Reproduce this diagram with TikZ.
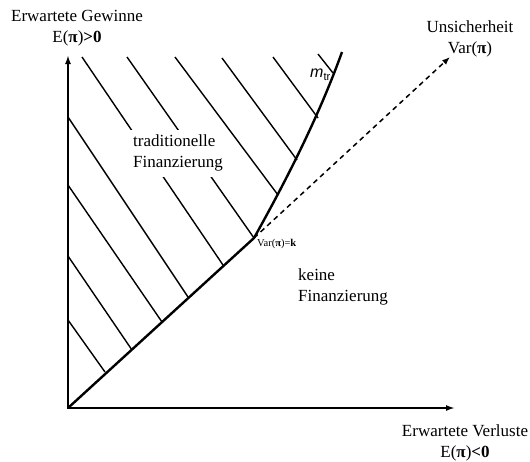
\documentclass[tikz,border=0pt]{standalone}
\usepackage{fontspec}
\setmainfont{Liberation Serif}
\newfontfamily\sansfam{Liberation Sans}
\usetikzlibrary{arrows.meta}
\begin{document}
\begin{tikzpicture}[x=1pt,y=-1pt,
  axes/.style={line width=2.4pt, {Latex[length=9pt,width=6pt]}-{Latex[length=9pt,width=6pt]}},
  bound/.style={line width=2.4pt, line join=round},
  hatch/.style={line width=1.4pt},
  dasharrow/.style={line width=1.5pt, dash pattern=on 5pt off 4pt, -{Latex[length=8pt,width=6pt]}},
  lab/.style={inner sep=0pt, font=\fontsize{17}{21}\selectfont},
  smalllab/.style={inner sep=0pt, font=\fontsize{10.5}{12}\selectfont}]
\useasboundingbox (0,0) rectangle (530,461);
% key points
\coordinate (O) at (68,408);
\coordinate (Ytip) at (68,55);
\coordinate (Xtip) at (455,408);
\coordinate (K) at (254,238);
\coordinate (T) at (342,52);
\coordinate (D) at (450,57);
% hatching
\draw[hatch] (82,57) -- (223,265);
\draw[hatch] (127,57) -- (K);
\draw[hatch] (175,57) -- (278,195);
\draw[hatch] (222,58) -- (297,160);
\draw[hatch] (273,57) -- (318,118);
\draw[hatch] (318,54) -- (333,73);
\draw[hatch] (68,117) -- (188,297);
\draw[hatch] (68,185) -- (162,322);
\draw[hatch] (68,256) -- (132,350);
\draw[hatch] (68,320) -- (105,372);
% region labels
\node[lab, anchor=north west, align=left, fill=white, inner xsep=5pt, inner ysep=5pt] (trad) at (128,130) {traditionelle\\Finanzierung};
\node[lab, anchor=north west, align=left] (keine) at (298,268) {keine\\Finanzierung};
% axes
\draw[axes] (Ytip) -- (O) -- (Xtip);
% boundary
\draw[bound] (O) -- (K) .. controls (287,179) and (319,116) .. (T);
% dashed extension
\draw[dasharrow] (K) -- (D);
% axis labels
\node[lab, anchor=north, align=center] (ylab) at (77,10.5) {Erwartete Gewinne\\E(\textbf{π})\textbf{>0}};
\node[lab, anchor=north, align=center] (dlab) at (470,21) {Unsicherheit\\Var(\textbf{π})};
\node[lab, anchor=north, align=center] (xlab) at (465,424) {Erwartete Verluste\\E(\textbf{π})\textbf{<0}};
\node[smalllab, anchor=base west] (klab) at (257,246) {Var(\textbf{π})=\textbf{k}};
\node[inner sep=0pt, anchor=base west] (mtr) at (310,77) {{\sansfam\fontsize{16}{16}\selectfont\itshape m}{\sansfam\fontsize{11}{11}\selectfont\raisebox{-3pt}{tr}}};
\end{tikzpicture}
\end{document}
